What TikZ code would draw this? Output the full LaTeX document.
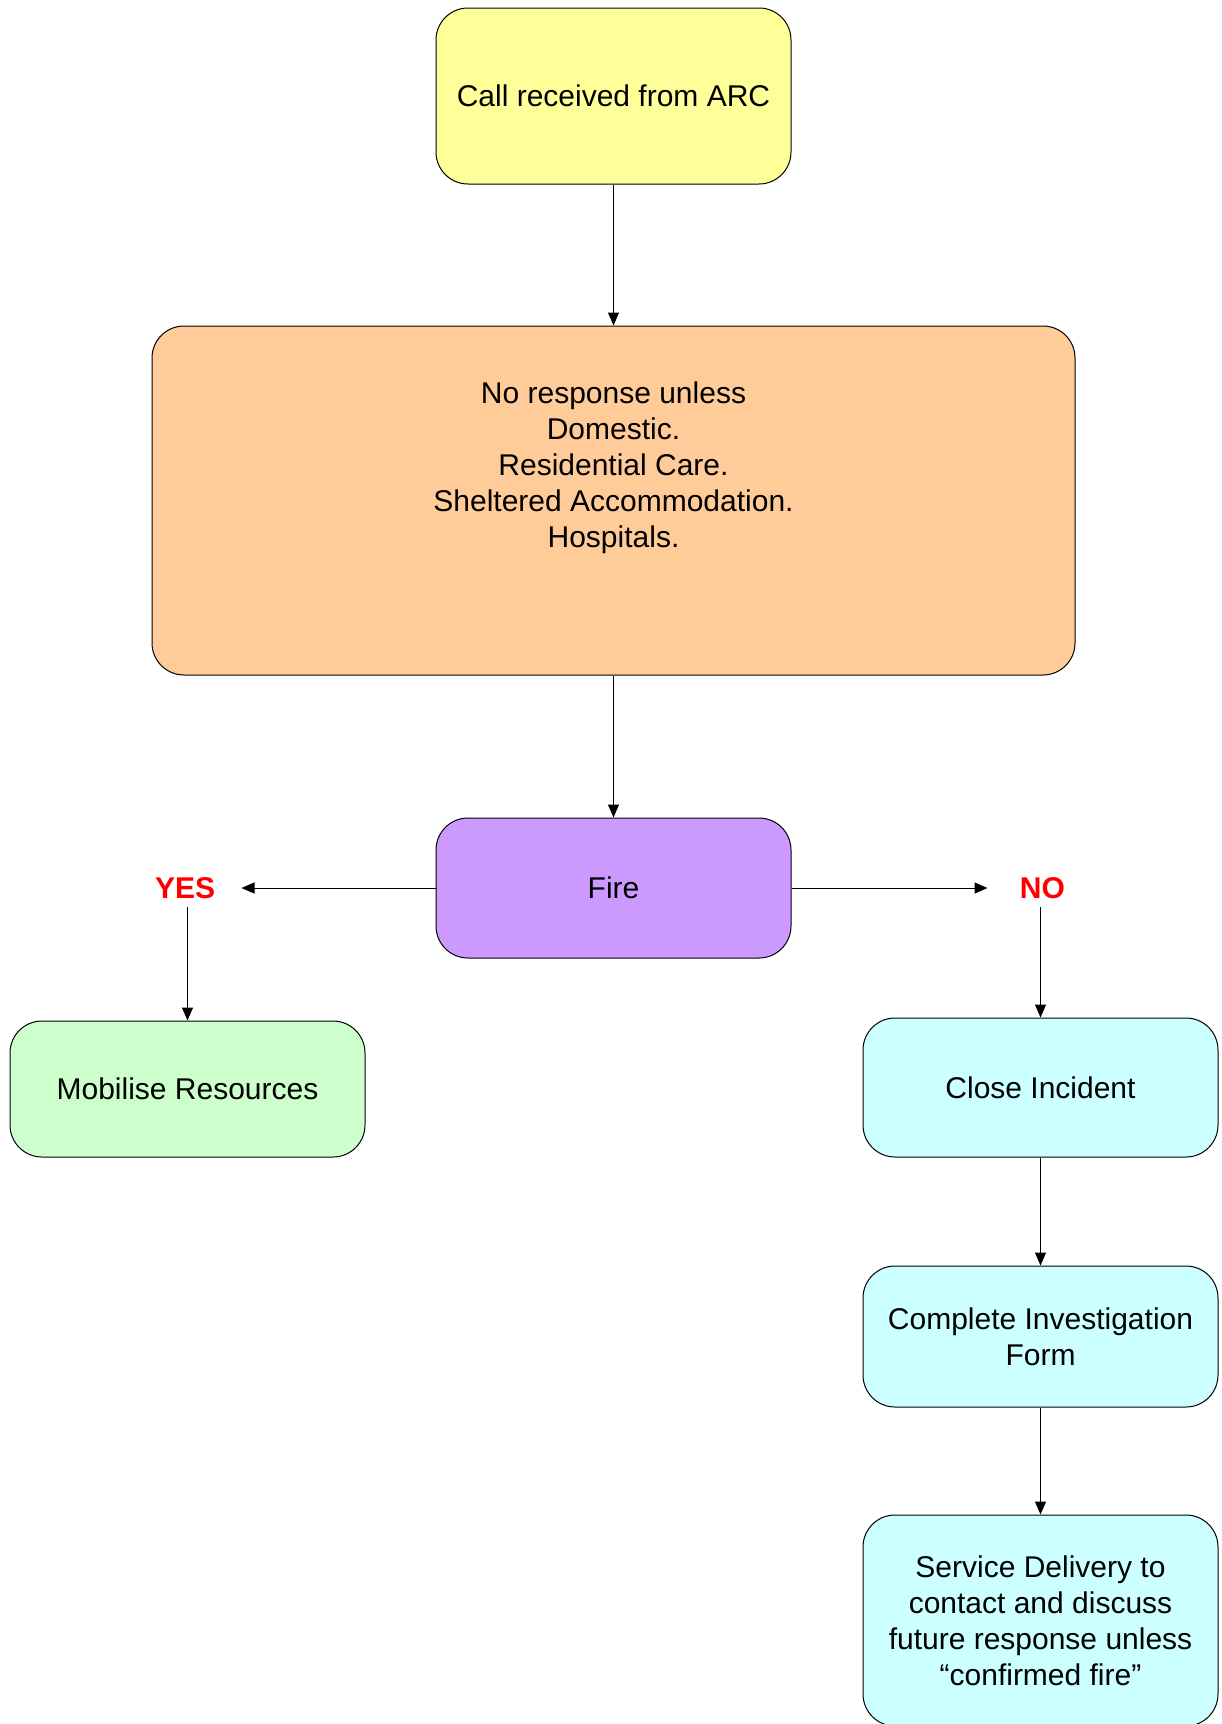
\documentclass[tikz,border=0pt]{standalone}
\usepackage{fontspec}
\setmainfont{Liberation Sans}
\usetikzlibrary{arrows.meta,positioning}

\definecolor{callyellow}{HTML}{FFFF99}
\definecolor{rulesorange}{HTML}{FFCC99}
\definecolor{firepurple}{HTML}{CC99FF}
\definecolor{mobgreen}{HTML}{CCFFCC}
\definecolor{closecyan}{HTML}{CCFFFF}

\tikzset{
    stepbox/.style={draw, rectangle, rounded corners=16pt, line width=0.5pt, minimum width=177.5pt, align=center, font=\fontsize{15}{18}\selectfont},
    answer/.style={text=red, font=\fontsize{15}{18}\selectfont\bfseries, inner xsep=13pt, inner ysep=4pt},
    flow/.style={-{Triangle[length=6.5pt,width=5.5pt]}, line width=0.5pt}
}

\begin{document}
\begin{tikzpicture}
    \useasboundingbox (0,0) rectangle (610.5pt,-862pt);

    % Nodes
    \node[stepbox, fill=callyellow, minimum height=88pt] (call) at (306.75pt,-48pt) {Call received from ARC};
    \node[stepbox, fill=rulesorange, minimum width=461.5pt, minimum height=174.5pt, below=70.5pt of call] (rules) {No response unless\\Domestic.\\Residential Care.\\Sheltered Accommodation.\\Hospitals.\\ ~\\ ~};
    \node[stepbox, fill=firepurple, minimum height=70pt, below=71pt of rules] (fire) {Fire};
    \node[stepbox, fill=mobgreen, minimum height=68pt] (mobilise) at (93.75pt,-544.5pt) {Mobilise Resources};
    \node[stepbox, fill=closecyan, minimum height=69.5pt] (close) at (520.25pt,-543.75pt) {Close Incident};
    \node[stepbox, fill=closecyan, minimum height=70.5pt, below=54pt of close] (form) {Complete Investigation\\Form};
    \node[stepbox, fill=closecyan, minimum height=105.5pt, below=53.5pt of form] (delivery) {Service Delivery to\\contact and discuss\\future response unless\\“confirmed fire”};

    % Labels
    \node[answer, left=97pt of fire] (yes) {YES};
    \node[answer, inner xsep=16pt, right=98pt of fire] (no) {NO};

    % Arrows
    \draw[flow] (call) -- (rules);
    \draw[flow] (rules) -- (fire);
    \draw[flow] (fire) -- (yes);
    \draw[flow] (fire) -- (no);
    \draw[flow] (yes.south -| mobilise.north) -- (mobilise);
    \draw[flow] (no.south -| close.north) -- (close);
    \draw[flow] (close) -- (form);
    \draw[flow] (form) -- (delivery);
\end{tikzpicture}
\end{document}
